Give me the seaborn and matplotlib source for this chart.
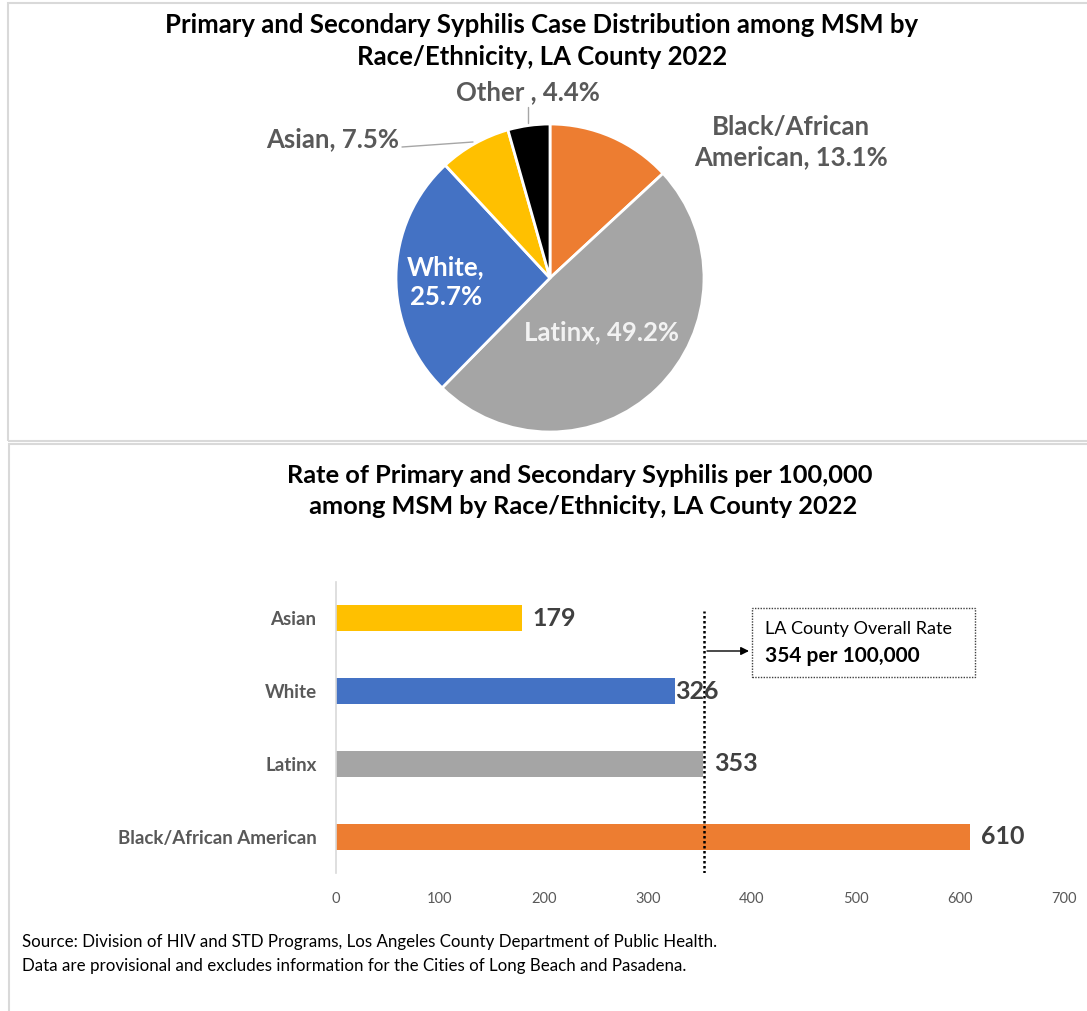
import matplotlib
matplotlib.use("Agg")
import matplotlib.pyplot as plt
import seaborn as sns
import pandas as pd
from matplotlib.patches import Rectangle

# ---- data ----
pie_labels = ["Black/African\nAmerican", "Latinx", "White,", "Asian", "Other "]
pie_values = [13.1, 49.2, 25.7, 7.5, 4.4]
pie_colors = ["#ED7D31", "#A5A5A5", "#4472C4", "#FFC000", "#000000"]

bar_categories = ["Asian", "White", "Latinx", "Black/African American"]
bar_values = [179, 326, 353, 610]
bar_colors = ["#FFC000", "#4472C4", "#A5A5A5", "#ED7D31"]
overall_rate = 354
x_ticks = [0, 100, 200, 300, 400, 500, 600, 700]

pie_title = "Primary and Secondary Syphilis Case Distribution among MSM by\nRace/Ethnicity, LA County 2022"
bar_title = "Rate of Primary and Secondary Syphilis per 100,000\n among MSM by Race/Ethnicity, LA County 2022"
source_text = ("Source: Division of HIV and STD Programs, Los Angeles County Department of Public Health.\n"
               "Data are provisional and excludes information for the Cities of Long Beach and Pasadena.")

sns.set_theme(style="white")
FONT = ["Lato", "DejaVu Sans"]
plt.rcParams["font.family"] = FONT

W, H = 1087, 1011
fig = plt.figure(figsize=(W / 100, H / 100), dpi=100)
fig.patch.set_facecolor("white")

def fx(px):
    return px / W

def fy(py):
    return 1 - py / H

# panel borders
fig.patches.append(Rectangle((fx(8), fy(441)), fx(1100) - fx(8), fy(3) - fy(441),
                             transform=fig.transFigure, fill=False, ec="#D9D9D9", lw=1.5))
fig.patches.append(Rectangle((fx(9), fy(1020)), fx(1100) - fx(9), fy(444) - fy(1020),
                             transform=fig.transFigure, fill=False, ec="#D9D9D9", lw=1.5))

# ---- pie ----
cx, cy, r = 550, 278, 154
axp = fig.add_axes([fx(cx - r), fy(cy + r), 2 * r / W, 2 * r / H])
axp.pie(pie_values, colors=pie_colors, startangle=90, counterclock=False,
        wedgeprops=dict(edgecolor="white", linewidth=2), radius=1)
axp.set_xlim(-1, 1)
axp.set_ylim(-1, 1)
axp.set_aspect("auto")
axp.axis("off")

def pd_(px, py):
    return ((px - cx) / r, (cy - py) / r)

grey = "#595959"
lab_fs = 18.5
pie_texts = [
    (f"{pie_labels[0]}, {pie_values[0]}%", (791, 142), grey),
    (f"{pie_labels[1]}, {pie_values[1]}%", (602, 332), "#F2F2F2"),
    (f"{pie_labels[2]}\n{pie_values[2]}%", (446, 282), "white"),
    (f"{pie_labels[3]}, {pie_values[3]}%", (333, 139), grey),
    (f"{pie_labels[4]}, {pie_values[4]}%", (528, 92), grey),
]
for txt, (px, py), col in pie_texts:
    x, y = pd_(px, py)
    axp.text(x, y, txt, ha="center", va="center", fontsize=lab_fs, fontweight="bold",
             color=col, linespacing=1.3, clip_on=False)

# leader lines
for (x0, y0), (x1, y1) in [((402, 147), (473, 142)), ((528, 107), (528, 123))]:
    a, b = pd_(x0, y0)
    c, d = pd_(x1, y1)
    axp.plot([a, c], [b, d], color="#A6A6A6", lw=1, clip_on=False)

fig.text(fx(542), fy(41), pie_title, ha="center", va="center", fontsize=18.5,
         fontweight="bold", color="black", linespacing=1.37)

# ---- bar chart ----
axb = fig.add_axes([fx(336), fy(873), fx(1064) - fx(336), fy(582) - fy(873)])
df = pd.DataFrame({"category": bar_categories, "rate": bar_values})
sns.barplot(data=df, x="rate", y="category", hue="category", palette=bar_colors,
            order=bar_categories, orient="h", width=0.36, legend=False, ax=axb,
            edgecolor="none", saturation=1)
axb.set_xlim(0, 700)
axb.set_ylim(3.5, -0.5)
axb.set_xticks(x_ticks)
axb.set_xticklabels([str(t) for t in x_ticks], fontsize=10.5, color=grey)
axb.tick_params(axis="x", length=0, pad=14)
axb.tick_params(axis="y", length=0, pad=14)
for lab in axb.get_yticklabels():
    lab.set_fontsize(13.5)
    lab.set_fontweight("bold")
    lab.set_color(grey)
axb.set_xlabel("")
axb.set_ylabel("")
for s in ["top", "right", "bottom"]:
    axb.spines[s].set_visible(False)
axb.spines["left"].set_color("#D9D9D9")
axb.spines["left"].set_linewidth(1.2)
axb.grid(False)

pads = [10, 0, 11, 11]
for i, (v, p) in enumerate(zip(bar_values, pads)):
    axb.annotate(str(v), xy=(v, i), xytext=(p, 0), textcoords="offset pixels",
                 ha="left", va="center", fontsize=18, fontweight="bold", color="#404040")

# overall rate dotted line
axb.axvline(overall_rate, ymin=0.0, ymax=0.90, color="black", lw=1.8, ls=(0, (1, 1)))

# annotation box
fig.patches.append(Rectangle((fx(752), fy(677)), fx(975) - fx(752), fy(608) - fy(677),
                             transform=fig.transFigure, fill=False, ec="#404040",
                             lw=1, ls=(0, (1, 1))))
fig.text(fx(765), fy(629), "LA County Overall Rate", ha="left", va="center",
         fontsize=13, color="black")
fig.text(fx(765), fy(656), "354 per 100,000", ha="left", va="center",
         fontsize=15, fontweight="bold", color="black")
axb.annotate("", xy=(fx(749), fy(651)), xycoords="figure fraction",
             xytext=(fx(707), fy(651)), textcoords="figure fraction",
             arrowprops=dict(arrowstyle="-|>", color="black", lw=1, mutation_scale=12,
                             shrinkA=0, shrinkB=0))

fig.text(fx(580), fy(491), bar_title, ha="center", va="center", fontsize=18.3,
         fontweight="bold", color="black", linespacing=1.4)

fig.text(fx(22), fy(954), source_text, ha="left", va="center", fontsize=12.2,
         color="black", linespacing=1.6)

fig.savefig("out.png", dpi=100, facecolor="white")
